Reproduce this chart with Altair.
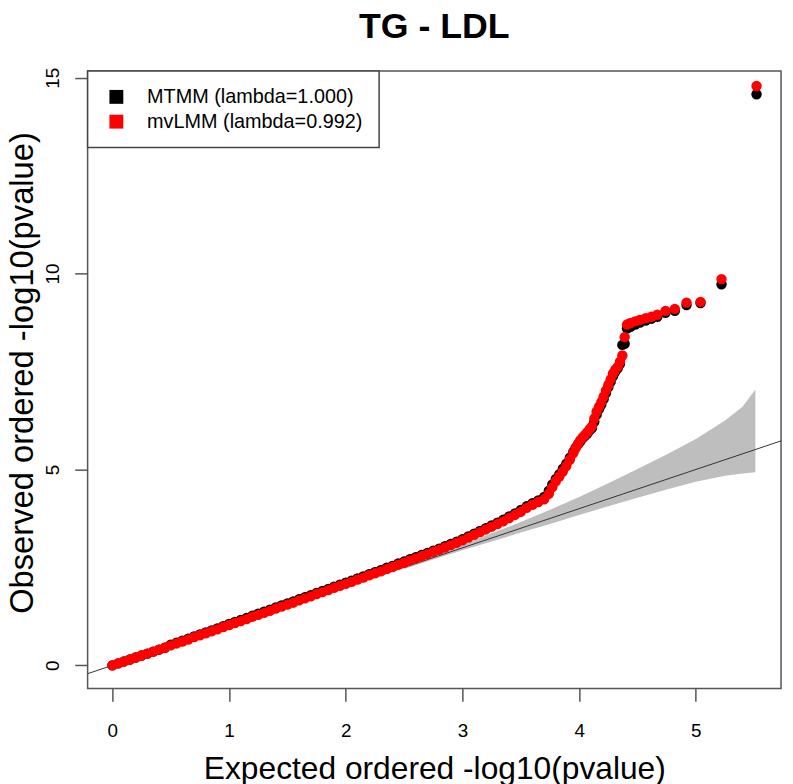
import altair as alt
import pandas as pd

# ---- data ----
chart_title = ["TG - LDL"]
series_names = ["MTMM (lambda=1.000)", "mvLMM (lambda=0.992)"]
series_colors = ["#000000", "#FF0000"]

expected_low = [0.00,0.05,0.10,0.15,0.20,0.25,0.30,0.35,0.40,0.45,
                0.50,0.55,0.60,0.65,0.70,0.75,0.80,0.85,0.90,0.95,
                1.00,1.05,1.10,1.15,1.20,1.25,1.30,1.35,1.40,1.45,
                1.50,1.55,1.60,1.65,1.70,1.75,1.80,1.85,1.90,1.95,
                2.00,2.05,2.10,2.15,2.20,2.25,2.30,2.35,2.40,2.45,
                2.50,2.55,2.60,2.65,2.70,2.75,2.80,2.85,2.90,2.95,
                3.00]
expected_tail = [3.05,3.10,3.15,3.20,3.25,3.30,3.35,3.40,3.45,3.50,
                 3.55,3.60,3.65,3.70,3.74,3.77,3.80,3.83,3.86,3.89,
                 3.92,3.95,3.97,3.99,4.01,4.03,4.05,4.07,4.09,4.11,
                 4.13,4.15,4.17,4.19,4.21,4.23,4.25,4.27,4.29,4.31,
                 4.33,4.35,4.37,4.39,4.41,4.44,4.48,4.52,4.57,4.62,
                 4.67,4.74,4.82,4.92,5.04,5.22,5.52]

mvlmm_low = [0.00,0.05,0.10,0.15,0.20,0.25,0.30,0.35,0.40,0.45,
             0.51,0.56,0.61,0.66,0.72,0.77,0.82,0.87,0.92,0.98,
             1.03,1.08,1.13,1.18,1.24,1.29,1.34,1.39,1.45,1.50,
             1.55,1.60,1.66,1.71,1.76,1.82,1.87,1.92,1.98,2.03,
             2.08,2.13,2.19,2.24,2.30,2.35,2.40,2.46,2.51,2.57,
             2.62,2.68,2.73,2.79,2.84,2.90,2.95,3.01,3.07,3.13,
             3.19]
mvlmm_tail = [3.26,3.33,3.40,3.47,3.54,3.61,3.68,3.76,3.84,3.92,
              4.02,4.10,4.17,4.24,4.38,4.55,4.70,4.82,4.95,5.09,
              5.25,5.42,5.55,5.65,5.75,5.82,5.88,5.95,6.03,6.10,
              6.30,6.48,6.60,6.72,6.86,7.02,7.16,7.30,7.45,7.55,
              7.62,7.75,7.91,8.38,8.70,8.74,8.78,8.82,8.86,8.90,
              8.95,9.05,9.10,9.26,9.28,9.86,14.79]

mtmm_low = [0.00,0.05,0.10,0.15,0.20,0.25,0.30,0.35,0.40,0.45,
            0.53,0.58,0.63,0.68,0.74,0.79,0.84,0.89,0.94,1.00,
            1.06,1.11,1.16,1.21,1.27,1.32,1.37,1.42,1.48,1.53,
            1.58,1.63,1.69,1.74,1.79,1.85,1.90,1.95,2.01,2.06,
            2.11,2.16,2.22,2.27,2.33,2.38,2.43,2.49,2.54,2.60,
            2.65,2.71,2.76,2.82,2.87,2.93,2.98,3.04,3.10,3.16,
            3.22]
mtmm_tail = [3.29,3.36,3.43,3.50,3.57,3.64,3.72,3.80,3.88,3.97,
             4.06,4.14,4.21,4.30,4.46,4.62,4.76,4.88,5.02,5.15,
             5.30,5.45,5.56,5.64,5.72,5.80,5.86,5.92,6.00,6.06,
             6.22,6.40,6.54,6.66,6.80,6.95,7.10,7.24,7.38,7.50,
             7.58,7.70,8.18,8.21,8.60,8.64,8.70,8.75,8.80,8.85,
             8.90,9.00,9.05,9.20,9.25,9.73,14.58]

band_x = [2.50, 2.75, 3.00, 3.25, 3.50, 3.75, 4.00, 4.25, 4.50, 4.75, 5.00, 5.25, 5.40, 5.51]
band_hi = [2.55, 2.82, 3.08, 3.37, 3.66, 3.97, 4.30, 4.65, 5.01, 5.38, 5.78, 6.25, 6.60, 7.04]
band_lo = [2.46, 2.70, 2.94, 3.16, 3.39, 3.61, 3.84, 4.06, 4.28, 4.49, 4.69, 4.84, 4.90, 4.93]

abline_x = [-1.0, 7.0]
x_ticks = [0, 1, 2, 3, 4, 5]
y_ticks = [0, 5, 10, 15]
x_domain = [-0.212, 5.73]
y_domain = [-0.59, 15.17]

# ---- tables ----
expected = expected_low + expected_tail
mtmm = pd.DataFrame({"x": expected, "y": mtmm_low + mtmm_tail, "series": series_names[0]})
mvlmm = pd.DataFrame({"x": expected, "y": mvlmm_low + mvlmm_tail, "series": series_names[1]})
band = pd.DataFrame({"x": band_x, "lo": band_lo, "hi": band_hi})
abline = pd.DataFrame({"x": abline_x, "y": abline_x})
title_df = pd.DataFrame({"t": chart_title})

FONT = "Liberation Sans"
W, H = 699.4, 622.7

xs = alt.Scale(domain=x_domain, nice=False, zero=False)
ys = alt.Scale(domain=y_domain, nice=False, zero=False)

x_axis = alt.Axis(values=x_ticks, title="Expected ordered -log10(pvalue)", format="d",
                  labelPadding=29, labelBaseline="middle",
                  titleX=W / 2, titleY=91, titleBaseline="alphabetic", titleAlign="center",
                  titleFontSize=32)
y_axis = alt.Axis(values=y_ticks, title="Observed ordered -log10(pvalue)", format="d",
                  labelAngle=270, labelAlign="center", labelBaseline="middle", labelPadding=22,
                  titleAngle=270, titleX=-55.5, titleY=304, titleBaseline="alphabetic",
                  titleAlign="center", titleFontSize=33)

band_layer = alt.Chart(band).mark_area(color="#BEBEBE", opacity=1).encode(
    x=alt.X("x:Q", scale=xs, axis=x_axis),
    y=alt.Y("hi:Q", scale=ys, axis=y_axis),
    y2="lo:Q",
)

line_layer = alt.Chart(abline).mark_line(color="#333333", strokeWidth=1, clip=True).encode(
    x=alt.X("x:Q", scale=xs),
    y=alt.Y("y:Q", scale=ys),
)

color = alt.Color("series:N",
                  scale=alt.Scale(domain=series_names, range=series_colors),
                  legend=alt.Legend(title=None, orient="none", legendX=0, legendY=0,
                                    symbolType="square", symbolSize=196,
                                    symbolStrokeWidth=0, symbolOffset=3,
                                    labelFontSize=20, labelFont=FONT, labelColor="black",
                                    labelLimit=600,
                                    labelOffset=21, rowPadding=5, padding=16,
                                    strokeColor="#444444", fillColor="white"))

pts_black = alt.Chart(mtmm).mark_circle(size=110, opacity=1).encode(
    x=alt.X("x:Q", scale=xs), y=alt.Y("y:Q", scale=ys), color=color)
pts_red = alt.Chart(mvlmm).mark_circle(size=110, opacity=1).encode(
    x=alt.X("x:Q", scale=xs), y=alt.Y("y:Q", scale=ys), color=color)

title_layer = alt.Chart(title_df).mark_text(
    font=FONT, fontSize=36, fontWeight="bold", color="black",
    align="center", baseline="alphabetic"
).encode(x=alt.value(W / 2), y=alt.value(-33.5), text="t:N")

chart = alt.layer(band_layer, line_layer, pts_black, pts_red, title_layer).properties(
    width=W, height=H,
    autosize=alt.AutoSizeParams(type="none"),
    padding={"left": 80.3, "top": 60.3, "right": 4, "bottom": 93},
).configure_view(
    stroke="#555555", strokeWidth=1.5
).configure_axis(
    domain=False, grid=False, tickSize=13, tickColor="#555555", tickWidth=1.5,
    labelFont=FONT, labelFontSize=19, labelColor="black",
    titleFont=FONT, titleFontWeight="normal", titleColor="black",
).configure_legend(
    strokeWidth=1.5
)

chart.save("out.html", embed_options={"renderer": "svg", "actions": False})
